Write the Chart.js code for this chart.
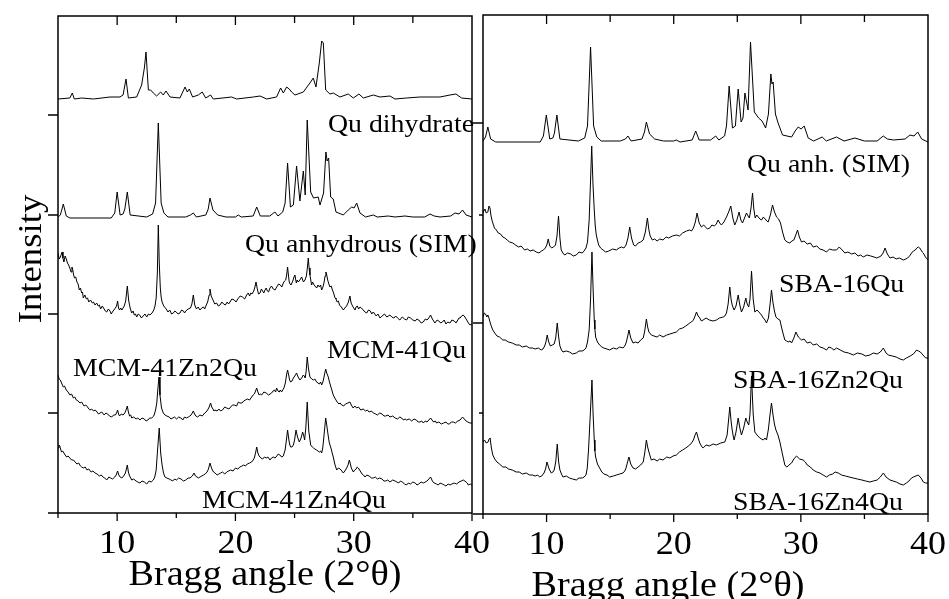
<!DOCTYPE html>
<html><head><meta charset="utf-8">
<script src="https://cdn.jsdelivr.net/npm/chart.js@4"></script>
<style>
html,body{margin:0;padding:0;background:#fff;}
#wrap{position:relative;width:949px;height:599px;overflow:hidden;background:#fff}
canvas{position:absolute;left:0;top:0}
</style></head><body>
<div id="wrap"><canvas id="cl" width="949" height="599"></canvas><canvas id="cr" width="949" height="599"></canvas></div>
<script>
// ---------- data: [Bragg angle (2θ), intensity (a.u.)] ----------
const dihydrate = [[5.0,414],[6.0,415],[6.21,420],[6.38,414],[7.0,415],[7.99,414],[9.4,416],[10.24,416],[10.5,418],[10.75,434],[10.95,415],[11.65,416],[12.07,428],[12.3,445],[12.44,461],[12.64,423],[12.83,423],[13.06,420],[13.34,417],[13.68,421],[13.9,418],[14.13,422],[14.47,416],[15.31,415],[15.74,426],[15.93,421],[16.1,424],[16.38,416],[16.86,418],[17.2,421],[17.48,415],[17.9,418],[18.13,414],[19.68,416],[20.1,414],[21.51,416],[22.08,417],[22.64,414],[23.48,416],[23.82,425],[24.05,420],[24.33,426],[24.55,424],[24.75,421],[25.03,418],[25.74,421],[26.3,430],[26.58,435],[26.81,426],[27.09,450],[27.29,472],[27.43,470],[27.63,423],[27.99,419],[28.27,420],[28.84,416],[29.54,419],[29.97,415],[30.44,419],[30.81,415],[31.66,418],[32.22,416],[33.06,417],[33.49,414],[34.47,415],[35.6,416],[36.45,416],[37.29,416],[38.14,418],[38.64,419],[39.12,415],[40.0,414]];

const anhydrousL = [[5.0,296],[5.2,298],[5.45,309],[5.7,297],[6.0,295],[9.5,295],[9.8,300],[10.0,321],[10.25,298],[10.5,299],[10.65,304],[10.86,321],[11.1,298],[12.5,296],[13.0,299],[13.25,310],[13.48,390],[13.72,310],[13.95,300],[14.3,296],[15.8,296],[16.2,298],[16.44,300],[16.7,296],[17.5,298],[17.7,304],[17.85,315],[18.1,303],[18.5,298],[19.2,296],[20.0,296],[20.24,298],[20.5,296],[21.5,297],[21.8,306],[22.1,297],[22.9,297],[23.34,301],[23.6,297],[24.0,301],[24.2,310],[24.41,350],[24.65,306],[24.9,308],[25.17,347],[25.45,312],[25.74,342],[25.9,318],[26.07,393],[26.36,321],[26.6,315],[27.0,316],[27.15,308],[27.45,320],[27.65,361],[27.75,352],[27.88,355],[28.05,316],[28.27,314],[28.5,301],[29.12,298],[29.54,303],[29.83,306],[30.03,305],[30.25,310],[30.53,300],[31.0,296],[31.65,298],[32.0,296],[32.92,297],[33.5,296],[34.33,297],[35.0,296],[36.0,296],[36.45,299],[36.8,297],[37.3,296],[38.2,297],[38.56,300],[38.9,299],[39.2,303],[39.5,298],[40.0,296]];

const mcm41Qu = [[5.0,260],[5.1,254],[5.2,256],[5.35,261],[5.42,255],[5.5,251],[5.6,257],[5.7,254],[5.8,250],[5.9,248],[6.0,245],[6.1,241],[6.18,246],[6.25,243],[6.32,238],[6.4,235],[6.5,236],[6.6,231],[6.7,229],[6.8,223],[6.9,225],[7.0,220],[7.07,221],[7.14,215],[7.27,218],[7.4,214],[7.5,215],[7.6,211],[7.75,213],[7.9,210],[8.0,211],[8.13,208],[8.27,210],[8.4,207],[8.5,208],[8.6,204],[8.75,207],[8.9,204],[9.0,202],[9.12,201],[9.26,204],[9.4,202],[9.5,199],[9.6,201],[9.72,203],[9.85,205],[9.95,207],[10.04,212],[10.12,205],[10.2,203],[10.3,205],[10.4,203],[10.5,205],[10.6,207],[10.72,212],[10.86,227],[10.98,212],[11.1,205],[11.23,200],[11.35,202],[11.45,198],[11.55,199],[11.65,196],[11.78,199],[11.9,198],[12.05,195],[12.2,197],[12.35,199],[12.5,196],[12.65,199],[12.78,198],[12.95,200],[13.1,203],[13.2,207],[13.3,215],[13.4,240],[13.48,288],[13.56,250],[13.65,225],[13.72,216],[13.8,211],[13.9,208],[14.0,206],[14.15,204],[14.3,201],[14.45,203],[14.6,199],[14.75,200],[14.88,202],[15.0,201],[15.15,199],[15.31,200],[15.45,203],[15.6,202],[15.7,200],[15.8,202],[16.0,204],[16.2,205],[16.32,209],[16.44,218],[16.56,208],[16.7,204],[16.85,206],[17.0,203],[17.15,205],[17.3,206],[17.4,204],[17.5,207],[17.65,211],[17.78,218],[17.85,224],[17.95,217],[18.1,213],[18.25,209],[18.41,210],[18.55,207],[18.7,208],[18.85,211],[19.0,209],[19.15,208],[19.3,211],[19.42,209],[19.54,211],[19.7,214],[19.9,213],[20.05,211],[20.2,214],[20.4,217],[20.6,216],[20.78,214],[20.95,218],[21.08,220],[21.2,217],[21.3,220],[21.4,219],[21.55,222],[21.65,226],[21.74,231],[21.85,224],[21.95,219],[22.08,220],[22.2,224],[22.3,222],[22.4,220],[22.5,223],[22.6,225],[22.7,222],[22.8,221],[22.92,225],[23.05,227],[23.2,224],[23.35,223],[23.49,226],[23.65,229],[23.8,228],[23.92,226],[24.05,230],[24.15,232],[24.25,233],[24.33,238],[24.41,246],[24.48,238],[24.55,231],[24.62,229],[24.7,228],[24.85,232],[24.95,236],[25.03,238],[25.1,233],[25.15,230],[25.22,233],[25.31,231],[25.45,233],[25.6,236],[25.75,231],[25.88,233],[26.0,237],[26.08,245],[26.16,255],[26.23,245],[26.3,238],[26.37,233],[26.44,228],[26.52,231],[26.6,229],[26.72,227],[26.87,225],[26.98,228],[27.1,226],[27.2,228],[27.29,223],[27.4,226],[27.5,231],[27.58,237],[27.65,241],[27.72,238],[27.8,233],[27.9,229],[27.99,226],[28.1,227],[28.2,223],[28.3,220],[28.42,215],[28.5,214],[28.6,211],[28.7,212],[28.8,208],[28.95,206],[29.12,203],[29.25,205],[29.4,207],[29.55,211],[29.68,217],[29.78,210],[29.9,207],[30.0,205],[30.11,203],[30.2,206],[30.3,207],[30.42,204],[30.53,206],[30.65,205],[30.8,203],[30.95,201],[31.1,200],[31.25,203],[31.4,202],[31.52,199],[31.65,201],[31.78,199],[31.9,197],[32.05,199],[32.22,195],[32.4,197],[32.6,199],[32.8,196],[33.06,198],[33.22,196],[33.4,195],[33.55,197],[33.7,195],[33.9,193],[34.1,196],[34.3,194],[34.47,193],[34.62,196],[34.8,195],[35.0,193],[35.2,192],[35.35,194],[35.5,193],[35.7,190],[35.88,191],[36.05,194],[36.2,193],[36.35,195],[36.5,198],[36.65,194],[36.87,190],[37.05,193],[37.2,192],[37.35,190],[37.5,191],[37.65,193],[37.8,189],[37.95,191],[38.14,190],[38.3,193],[38.5,192],[38.65,190],[38.8,193],[38.9,195],[39.0,195],[39.12,197],[39.26,198],[39.4,196],[39.55,193],[39.7,190],[39.83,188],[40.0,189]];

const mcm41Zn2Qu = [[5.0,138],[5.1,134],[5.2,133],[5.3,130],[5.45,126],[5.55,127],[5.7,123],[5.85,121],[6.01,118],[6.15,119],[6.3,115],[6.42,116],[6.55,113],[6.7,112],[6.86,110],[7.0,111],[7.2,107],[7.35,108],[7.5,106],[7.6,104],[7.7,103],[7.85,104],[8.0,102],[8.15,103],[8.3,101],[8.42,99],[8.55,100],[8.7,101],[8.9,98],[9.05,100],[9.2,99],[9.35,97],[9.54,96],[9.7,98],[9.85,98],[9.95,100],[10.04,103],[10.12,99],[10.2,97],[10.35,99],[10.5,98],[10.65,100],[10.75,103],[10.86,107],[10.95,101],[11.05,97],[11.15,98],[11.23,95],[11.4,96],[11.6,94],[11.75,95],[11.93,93],[12.1,95],[12.3,94],[12.45,92],[12.6,93],[12.75,95],[12.92,95],[13.1,97],[13.25,103],[13.35,110],[13.45,125],[13.54,136],[13.62,118],[13.75,105],[13.9,100],[14.04,98],[14.2,97],[14.4,96],[14.55,94],[14.7,95],[14.85,96],[15.03,94],[15.2,96],[15.4,95],[15.55,93],[15.7,96],[15.85,95],[16.02,96],[16.15,97],[16.25,98],[16.35,100],[16.44,102],[16.55,99],[16.65,97],[16.8,96],[17.0,98],[17.2,97],[17.4,100],[17.52,101],[17.65,103],[17.78,106],[17.9,110],[18.0,106],[18.1,104],[18.18,102],[18.27,103],[18.45,102],[18.6,104],[18.75,102],[18.9,103],[19.1,106],[19.26,105],[19.45,104],[19.6,106],[19.75,108],[19.9,108],[20.1,107],[20.25,111],[20.38,110],[20.55,110],[20.7,112],[20.85,113],[21.0,114],[21.2,113],[21.37,116],[21.5,118],[21.6,119],[21.7,122],[21.8,125],[21.9,121],[22.0,118],[22.1,119],[22.22,118],[22.4,121],[22.6,120],[22.8,118],[23.06,120],[23.18,122],[23.3,123],[23.4,121],[23.48,125],[23.6,122],[23.7,121],[23.8,123],[23.9,121],[24.0,123],[24.1,125],[24.22,130],[24.32,138],[24.41,143],[24.5,138],[24.58,133],[24.67,131],[24.78,132],[24.9,135],[25.02,137],[25.17,140],[25.3,136],[25.45,133],[25.6,135],[25.74,138],[25.82,137],[25.9,135],[25.98,142],[26.07,156],[26.18,144],[26.3,136],[26.45,134],[26.6,133],[26.72,134],[26.86,131],[26.98,130],[27.1,129],[27.2,131],[27.29,128],[27.42,132],[27.52,138],[27.63,144],[27.72,140],[27.85,136],[27.95,131],[28.05,127],[28.15,123],[28.27,118],[28.4,115],[28.5,113],[28.6,111],[28.75,109],[28.85,110],[28.98,108],[29.15,107],[29.3,109],[29.5,110],[29.68,111],[29.8,108],[29.95,105],[30.1,107],[30.25,105],[30.4,106],[30.6,103],[30.8,104],[31.0,102],[31.15,103],[31.3,101],[31.5,102],[31.66,100],[31.85,99],[32.0,98],[32.2,100],[32.4,99],[32.55,97],[32.7,97],[32.9,98],[33.06,96],[33.3,97],[33.5,95],[33.7,94],[33.9,96],[34.05,95],[34.2,93],[34.35,94],[34.47,93],[34.7,94],[34.9,92],[35.1,94],[35.3,93],[35.45,91],[35.6,91],[35.75,92],[35.88,90],[36.05,92],[36.2,91],[36.35,93],[36.5,95],[36.62,93],[36.75,91],[36.9,92],[37.0,90],[37.2,91],[37.4,89],[37.6,90],[37.8,91],[37.95,89],[38.1,89],[38.25,91],[38.42,91],[38.6,90],[38.8,92],[39.0,93],[39.2,96],[39.35,94],[39.5,92],[39.65,91],[39.83,90],[40.0,90]];

const mcm41Zn4Qu = [[5.0,65],[5.08,68],[5.15,67],[5.22,64],[5.3,61],[5.4,62],[5.5,60],[5.6,58],[5.73,56],[5.85,57],[6.0,55],[6.15,53],[6.3,53],[6.45,51],[6.6,49],[6.75,50],[6.9,47],[7.0,46],[7.14,45],[7.3,46],[7.45,43],[7.6,44],[7.8,41],[7.95,42],[8.13,40],[8.3,39],[8.5,37],[8.65,38],[8.8,36],[8.95,35],[9.12,33],[9.3,36],[9.45,35],[9.62,34],[9.8,36],[9.92,38],[10.04,42],[10.14,38],[10.25,36],[10.4,35],[10.55,37],[10.7,40],[10.86,48],[10.95,41],[11.05,37],[11.15,35],[11.23,33],[11.4,34],[11.6,32],[11.75,31],[11.93,30],[12.1,32],[12.3,31],[12.5,29],[12.7,32],[12.88,31],[13.06,33],[13.18,36],[13.3,43],[13.43,65],[13.56,85],[13.68,60],[13.8,48],[13.92,40],[14.04,36],[14.2,35],[14.4,34],[14.55,33],[14.7,32],[14.85,34],[15.03,33],[15.2,35],[15.4,34],[15.6,32],[15.8,33],[16.0,35],[16.16,35],[16.35,37],[16.5,40],[16.62,37],[16.75,36],[16.88,35],[17.0,36],[17.15,37],[17.3,38],[17.45,39],[17.6,41],[17.72,44],[17.85,50],[17.95,46],[18.05,43],[18.15,41],[18.27,40],[18.45,38],[18.6,39],[18.75,40],[18.9,41],[19.1,39],[19.26,41],[19.42,42],[19.6,43],[19.8,42],[20.0,45],[20.2,44],[20.38,46],[20.55,47],[20.7,48],[20.85,47],[21.0,49],[21.2,50],[21.37,51],[21.5,53],[21.6,55],[21.7,60],[21.8,66],[21.9,60],[22.0,57],[22.15,55],[22.3,54],[22.45,56],[22.6,55],[22.75,56],[22.92,53],[23.05,55],[23.2,56],[23.35,55],[23.5,57],[23.62,59],[23.76,58],[23.9,56],[24.05,57],[24.12,60],[24.2,63],[24.3,72],[24.41,83],[24.52,73],[24.6,68],[24.67,66],[24.78,66],[24.9,68],[25.0,73],[25.12,83],[25.25,76],[25.4,71],[25.55,75],[25.68,81],[25.78,77],[25.85,73],[25.95,85],[26.07,111],[26.2,82],[26.36,68],[26.5,66],[26.6,65],[26.72,64],[26.86,63],[26.98,62],[27.1,61],[27.2,62],[27.29,60],[27.38,65],[27.45,73],[27.55,85],[27.63,95],[27.72,88],[27.8,81],[27.87,75],[27.94,70],[28.02,67],[28.1,64],[28.18,60],[28.27,56],[28.4,49],[28.56,43],[28.7,45],[28.85,44],[29.0,42],[29.12,40],[29.25,42],[29.4,45],[29.52,48],[29.63,53],[29.72,49],[29.8,45],[29.88,43],[29.97,41],[30.08,43],[30.2,44],[30.3,46],[30.39,45],[30.55,42],[30.7,39],[30.82,38],[30.95,36],[31.1,38],[31.3,37],[31.5,35],[31.66,35],[31.82,36],[32.0,34],[32.2,35],[32.4,34],[32.55,32],[32.7,32],[32.88,33],[33.06,31],[33.3,33],[33.5,32],[33.65,31],[33.8,30],[33.95,32],[34.1,31],[34.3,29],[34.47,28],[34.62,30],[34.8,29],[35.0,31],[35.2,30],[35.35,28],[35.5,29],[35.7,31],[35.88,30],[36.05,31],[36.2,32],[36.35,34],[36.5,36],[36.65,32],[36.8,30],[37.0,29],[37.15,28],[37.3,30],[37.5,29],[37.65,28],[37.8,27],[37.98,29],[38.14,28],[38.3,29],[38.5,30],[38.7,29],[38.9,31],[39.1,32],[39.26,33],[39.4,32],[39.5,31],[39.6,30],[39.69,28],[39.85,29],[40.0,28]];

const anhydrousR = [[5.0,373],[5.2,377],[5.38,387],[5.6,375],[6.0,372],[9.5,372],[9.75,378],[9.98,399],[10.25,375],[10.5,376],[10.62,381],[10.81,399],[11.05,375],[12.5,373],[13.0,376],[13.22,388],[13.46,467],[13.7,388],[13.95,377],[14.3,373],[15.8,373],[16.2,375],[16.4,378],[16.65,373],[17.5,375],[17.7,382],[17.85,392],[18.1,380],[18.5,375],[19.2,373],[20.0,373],[20.2,374],[20.5,372],[21.45,374],[21.73,383],[22.0,374],[22.9,374],[23.3,378],[23.55,374],[24.0,378],[24.15,388],[24.36,428],[24.62,386],[24.85,388],[25.07,425],[25.3,392],[25.45,396],[25.6,421],[25.85,404],[26.04,472],[26.34,402],[26.68,396],[26.95,393],[27.23,386],[27.45,400],[27.64,440],[27.73,430],[27.82,432],[28.0,400],[28.21,391],[28.56,379],[29.27,377],[29.55,383],[29.79,387],[30.02,385],[30.26,388],[30.58,376],[31.0,373],[31.68,377],[32.0,373],[32.8,377],[33.4,373],[34.25,376],[35.0,373],[36.0,373],[36.48,378],[36.8,375],[37.3,374],[38.2,375],[38.58,379],[38.9,378],[39.19,382],[39.5,375],[40.0,372]];

const sba16Qu = [[5.0,301],[5.08,304],[5.15,305],[5.25,301],[5.38,302],[5.47,308],[5.55,306],[5.62,299],[5.7,294],[5.8,290],[5.9,286],[6.05,284],[6.2,281],[6.38,280],[6.56,277],[6.72,276],[6.9,274],[7.1,272],[7.35,271],[7.55,269],[7.8,267],[8.0,268],[8.27,264],[8.5,265],[8.7,263],[8.95,264],[9.19,262],[9.4,261],[9.6,263],[9.75,264],[9.9,266],[10.02,269],[10.13,275],[10.25,268],[10.4,266],[10.55,267],[10.7,269],[10.82,278],[10.94,298],[11.05,276],[11.15,264],[11.28,261],[11.42,259],[11.65,261],[11.9,260],[12.1,258],[12.34,259],[12.55,262],[12.8,261],[12.95,263],[13.1,266],[13.22,272],[13.35,294],[13.45,330],[13.55,368],[13.65,330],[13.75,304],[13.83,288],[13.91,279],[14.0,274],[14.1,269],[14.25,266],[14.44,264],[14.65,262],[14.9,263],[15.2,265],[15.49,264],[15.7,266],[15.9,267],[16.08,266],[16.25,269],[16.4,276],[16.54,287],[16.68,276],[16.85,269],[17.0,268],[17.2,271],[17.4,272],[17.6,274],[17.77,282],[17.93,296],[18.05,284],[18.15,278],[18.32,274],[18.5,275],[18.7,273],[18.9,275],[19.16,274],[19.4,277],[19.6,276],[19.9,278],[20.21,279],[20.45,278],[20.7,281],[21.0,283],[21.26,284],[21.4,283],[21.55,286],[21.7,292],[21.84,301],[22.0,291],[22.18,287],[22.35,289],[22.5,287],[22.65,285],[22.84,286],[23.0,289],[23.2,288],[23.35,290],[23.49,294],[23.62,291],[23.75,289],[23.95,292],[24.15,297],[24.32,302],[24.49,308],[24.65,296],[24.8,289],[24.97,294],[25.14,302],[25.28,294],[25.41,291],[25.57,296],[25.72,301],[25.85,298],[25.95,296],[26.08,306],[26.2,321],[26.3,305],[26.41,296],[26.53,299],[26.65,297],[26.78,295],[26.91,294],[27.05,297],[27.2,295],[27.32,293],[27.43,292],[27.6,299],[27.77,309],[27.93,302],[28.09,297],[28.25,295],[28.4,291],[28.58,281],[28.74,274],[28.92,272],[29.13,271],[29.3,273],[29.45,274],[29.6,279],[29.74,284],[29.88,277],[30.05,272],[30.25,273],[30.5,270],[30.75,271],[30.97,267],[31.25,268],[31.5,265],[31.75,264],[32.02,262],[32.25,265],[32.5,264],[32.8,264],[33.02,267],[33.25,264],[33.46,261],[33.7,262],[34.0,260],[34.25,261],[34.5,258],[34.7,259],[34.91,257],[35.2,259],[35.5,258],[35.75,257],[35.96,256],[36.15,257],[36.3,258],[36.47,261],[36.62,266],[36.8,260],[37.01,256],[37.25,257],[37.5,255],[37.75,256],[38.06,254],[38.25,255],[38.4,256],[38.55,258],[38.71,261],[38.85,263],[39.0,264],[39.12,266],[39.24,267],[39.35,266],[39.45,264],[39.55,262],[39.63,261],[39.8,257],[40.0,254]];

const sba16Zn2Qu = [[5.0,197],[5.1,201],[5.2,200],[5.3,197],[5.38,199],[5.47,196],[5.55,192],[5.65,188],[5.77,184],[5.92,181],[6.1,178],[6.3,177],[6.56,174],[6.75,174],[7.0,172],[7.3,171],[7.61,169],[7.85,169],[8.1,167],[8.4,168],[8.66,166],[8.9,166],[9.1,165],[9.35,166],[9.58,164],[9.72,165],[9.85,168],[9.95,172],[10.05,179],[10.17,172],[10.3,168],[10.45,169],[10.6,170],[10.72,176],[10.84,191],[10.95,177],[11.05,168],[11.17,164],[11.29,162],[11.55,163],[11.8,162],[12.05,160],[12.34,161],[12.55,163],[12.8,163],[12.95,164],[13.1,166],[13.22,172],[13.35,184],[13.46,215],[13.57,262],[13.66,225],[13.75,194],[13.8,185],[13.86,177],[14.0,172],[14.17,169],[14.35,167],[14.5,166],[14.75,165],[14.96,164],[15.25,166],[15.5,165],[15.75,167],[16.01,166],[16.15,168],[16.25,171],[16.37,177],[16.48,184],[16.62,176],[16.8,171],[17.0,172],[17.2,171],[17.4,174],[17.6,176],[17.72,183],[17.85,195],[17.95,187],[18.05,182],[18.24,179],[18.45,178],[18.7,177],[18.9,179],[19.16,177],[19.45,179],[19.7,180],[19.95,181],[20.21,182],[20.45,185],[20.7,186],[20.95,188],[21.26,191],[21.4,192],[21.55,194],[21.68,198],[21.79,202],[21.92,198],[22.05,196],[22.18,193],[22.31,194],[22.55,196],[22.8,194],[23.1,193],[23.36,194],[23.6,196],[23.89,197],[24.02,198],[24.15,201],[24.28,210],[24.41,227],[24.52,214],[24.6,209],[24.68,206],[24.75,204],[24.9,208],[25.07,219],[25.2,209],[25.33,202],[25.5,207],[25.67,216],[25.78,210],[25.9,207],[26.0,215],[26.12,243],[26.25,215],[26.38,202],[26.55,204],[26.77,201],[26.9,199],[27.05,196],[27.18,194],[27.3,191],[27.45,196],[27.58,210],[27.69,224],[27.8,212],[27.92,203],[28.04,197],[28.2,195],[28.35,194],[28.55,183],[28.74,174],[28.88,173],[29.0,172],[29.15,173],[29.27,171],[29.45,176],[29.61,182],[29.8,177],[30.05,174],[30.25,175],[30.5,171],[30.75,172],[30.97,169],[31.25,170],[31.5,167],[31.75,166],[32.02,164],[32.2,167],[32.4,166],[32.6,164],[32.81,166],[33.1,164],[33.4,162],[33.75,161],[34.12,159],[34.45,161],[34.8,160],[35.1,158],[35.43,159],[35.7,161],[36.0,160],[36.25,162],[36.49,166],[36.7,161],[36.88,159],[37.2,158],[37.5,157],[37.8,155],[38.06,154],[38.3,156],[38.6,158],[38.85,160],[39.11,164],[39.25,163],[39.4,162],[39.6,159],[39.82,156],[40.0,156]];

const sba16Zn4Qu = [[5.0,72],[5.12,74],[5.25,71],[5.4,72],[5.48,75],[5.56,76],[5.66,66],[5.77,59],[5.92,55],[6.1,52],[6.3,50],[6.56,47],[6.8,47],[7.0,45],[7.3,44],[7.61,42],[7.85,42],[8.1,40],[8.4,41],[8.66,39],[8.9,39],[9.1,38],[9.3,39],[9.45,37],[9.62,38],[9.8,41],[9.92,45],[10.03,52],[10.2,45],[10.37,41],[10.5,42],[10.6,44],[10.72,52],[10.84,70],[10.95,52],[11.05,44],[11.17,40],[11.29,37],[11.55,38],[11.8,36],[12.05,35],[12.34,34],[12.55,36],[12.8,36],[12.95,37],[13.1,39],[13.2,46],[13.3,64],[13.44,100],[13.57,134],[13.66,100],[13.75,74],[13.8,63],[13.86,57],[14.0,50],[14.17,46],[14.35,42],[14.5,40],[14.75,39],[14.96,37],[15.25,38],[15.5,39],[15.75,40],[16.01,41],[16.15,43],[16.25,46],[16.37,52],[16.48,57],[16.62,50],[16.8,46],[17.0,45],[17.2,47],[17.4,49],[17.6,52],[17.72,61],[17.85,74],[17.95,67],[18.05,62],[18.24,54],[18.45,55],[18.7,53],[18.9,55],[19.16,54],[19.45,57],[19.7,56],[19.95,58],[20.21,59],[20.45,62],[20.7,64],[20.95,66],[21.26,69],[21.4,71],[21.55,74],[21.68,79],[21.79,82],[21.92,76],[22.05,71],[22.18,68],[22.31,66],[22.55,69],[22.8,68],[23.1,70],[23.36,69],[23.7,71],[24.02,72],[24.1,75],[24.2,79],[24.3,92],[24.41,107],[24.52,92],[24.6,84],[24.68,78],[24.75,74],[24.9,82],[25.07,96],[25.2,86],[25.33,79],[25.5,86],[25.67,96],[25.78,92],[25.9,89],[26.0,100],[26.12,138],[26.25,100],[26.38,82],[26.55,79],[26.77,76],[26.9,75],[27.05,74],[27.18,76],[27.3,74],[27.45,85],[27.58,100],[27.69,111],[27.8,100],[27.92,90],[28.04,84],[28.2,79],[28.35,72],[28.55,60],[28.74,49],[28.88,47],[29.0,48],[29.15,50],[29.27,51],[29.45,55],[29.66,58],[29.9,55],[30.18,54],[30.35,52],[30.5,49],[30.75,47],[30.97,44],[31.25,42],[31.5,41],[31.75,39],[32.02,37],[32.25,39],[32.5,40],[32.7,42],[32.94,41],[33.2,39],[33.5,38],[33.8,37],[34.12,36],[34.45,35],[34.8,34],[35.1,33],[35.43,32],[35.7,33],[36.0,34],[36.25,37],[36.49,41],[36.7,37],[37.01,34],[37.25,33],[37.5,32],[37.8,30],[38.06,29],[38.3,31],[38.5,33],[38.7,36],[38.85,37],[39.05,38],[39.24,39],[39.45,36],[39.63,32],[39.8,31],[40.0,31]];

const xTicks = [5, 10, 15, 20, 25, 30, 35, 40];
const xTickLabels = [10, 20, 30, 40];
const yTicksLeft = [100, 199, 298, 398];
const yTicksRightMajor = [191, 391];
const yTicksRightMinor = [101, 299];
const labelsLeft = ['Qu dihydrate', 'Qu anhydrous (SIM)', 'MCM-41Qu', 'MCM-41Zn2Qu', 'MCM-41Zn4Qu'];
const labelsRight = ['Qu anh. (SIM)', 'SBA-16Qu', 'SBA-16Zn2Qu', 'SBA-16Zn4Qu'];
const xTitle = 'Bragg angle (2°θ)';
const yTitle = 'Intensity';

// ---------- drawing helpers ----------
const SERIF = '"Liberation Serif","Times New Roman",serif';
function txt(ctx, s, x, y, size, align, sx, rot) {
  ctx.save();
  ctx.font = size + 'px ' + SERIF;
  ctx.fillStyle = '#000';
  ctx.textBaseline = 'alphabetic';
  ctx.textAlign = align;
  ctx.translate(x, y);
  if (rot) ctx.rotate(rot);
  ctx.scale(sx, 1);
  ctx.fillText(s, 0, 0);
  ctx.restore();
}
function toPts(arr) { return arr.map(p => ({x: p[0], y: p[1]})); }
function ds(arr) {
  return {data: toPts(arr), borderColor: '#000', borderWidth: 1, pointRadius: 0, tension: 0, fill: false};
}

function makePlugin(opt) {
  return {
    id: 'decor',
    afterDraw(chart) {
      const ctx = chart.ctx, a = chart.chartArea, x = chart.scales.x, y = chart.scales.y;
      ctx.save();
      ctx.strokeStyle = '#000';
      ctx.lineWidth = 1.5;
      ctx.strokeRect(a.left, a.top, a.right - a.left, a.bottom - a.top);
      ctx.lineWidth = 1.3;
      ctx.beginPath();
      xTicks.forEach(v => {
        const px = x.getPixelForValue(v);
        const major = v % 10 === 0;
        ctx.moveTo(px, a.bottom); ctx.lineTo(px, a.bottom + (major ? 8 : 5));
        if (v > 5 && v < 40) { ctx.moveTo(px, a.top); ctx.lineTo(px, a.top + (major ? 9 : 7)); }
      });
      opt.yMajor.forEach(v => { const py = y.getPixelForValue(v); ctx.moveTo(a.left, py); ctx.lineTo(a.left - opt.majLen, py); });
      opt.yMinor.forEach(v => { const py = y.getPixelForValue(v); ctx.moveTo(a.left, py); ctx.lineTo(a.left - opt.minLen, py); });
      ctx.moveTo(a.left, a.bottom); ctx.lineTo(a.left - opt.majLen, a.bottom);
      ctx.stroke();
      ctx.restore();
      xTickLabels.forEach(v => txt(ctx, String(v), x.getPixelForValue(v), opt.tickBase, 34, 'center', 1.06));
      txt(ctx, xTitle, opt.titleX, opt.titleBase, 35, 'center', 1.09);
      opt.labels.forEach(l => txt(ctx, l[0], l[1], l[2], 26, 'left', 1.07));
      if (opt.yTitle) txt(ctx, yTitle, 41, 259, 34, 'center', 1.08, -Math.PI / 2);
    }
  };
}

function baseOptions(pad, ymax) {
  return {
    responsive: false, animation: false,
    layout: {padding: pad},
    plugins: {legend: {display: false}, tooltip: {enabled: false}},
    scales: {
      x: {type: 'linear', min: 5, max: 40, display: false},
      y: {type: 'linear', min: 0, max: ymax, display: false}
    }
  };
}

new Chart(document.getElementById('cl'), {
  type: 'line',
  data: {datasets: [dihydrate, anhydrousL, mcm41Qu, mcm41Zn2Qu, mcm41Zn4Qu].map(ds)},
  options: baseOptions({left: 58, right: 477, top: 16, bottom: 86}, 497),
  plugins: [makePlugin({
    yMajor: yTicksLeft, yMinor: [], majLen: 10, minLen: 5,
    tickBase: 553, titleX: 265, titleBase: 585, yTitle: true,
    labels: [[labelsLeft[0], 328, 132], [labelsLeft[1], 245, 252], [labelsLeft[2], 327, 358], [labelsLeft[3], 73, 376], [labelsLeft[4], 202, 508]]
  })]
});

new Chart(document.getElementById('cr'), {
  type: 'line',
  data: {datasets: [anhydrousR, sba16Qu, sba16Zn2Qu, sba16Zn4Qu].map(ds)},
  options: baseOptions({left: 483, right: 21, top: 15, bottom: 85}, 499),
  plugins: [makePlugin({
    yMajor: yTicksRightMajor, yMinor: yTicksRightMinor, majLen: 10, minLen: 4,
    tickBase: 554, titleX: 668, titleBase: 596, yTitle: false,
    labels: [[labelsRight[0], 747, 172], [labelsRight[1], 779, 292], [labelsRight[2], 733, 388], [labelsRight[3], 733, 510]]
  })]
});
</script>
</body></html>
